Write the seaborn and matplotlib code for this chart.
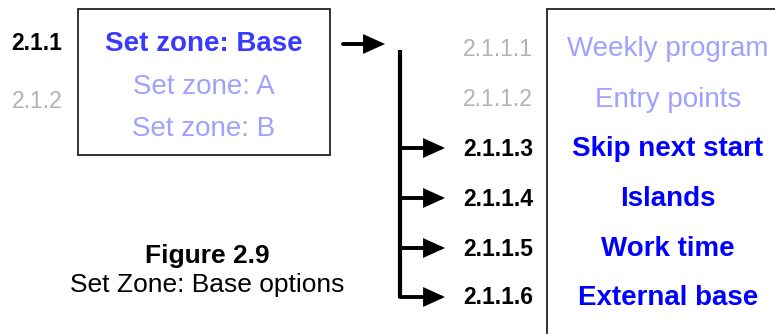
import matplotlib.pyplot as plt
import seaborn as sns
from matplotlib.patches import Rectangle

# =============================================
# Diagram content
left_numbers = ['2.1.1', '2.1.2']
left_items = ['Set zone: Base', 'Set zone: A', 'Set zone: B']
left_active = [True, False, False]

right_numbers = ['2.1.1.1', '2.1.1.2', '2.1.1.3', '2.1.1.4', '2.1.1.5', '2.1.1.6']
right_items = ['Weekly program', 'Entry points', 'Skip next start', 'Islands', 'Work time', 'External base']
right_active = [False, False, True, True, True, True]

caption_title = 'Figure 2.9'
caption_text = 'Set Zone: Base options'

# =============================================
# Styling
sns.set_theme(style="white")
plt.rcParams['font.family'] = ['Liberation Sans', 'DejaVu Sans']

gray = '#b3b3b3'
light_blue = '#a0a0ff'
base_blue = '#3a3aff'
blue = '#0000ff'

fig = plt.figure(figsize=(7.75, 3.34), dpi=100)
ax = fig.add_axes([0, 0, 1, 1])
ax.set_xlim(0, 775)
ax.set_ylim(334, 0)
ax.axis('off')

# left box
ax.add_patch(Rectangle((78, 9), 252, 146, fill=False, edgecolor='#222222', lw=1.3))
left_y = [44, 87, 129]
for i, (label, active) in enumerate(zip(left_items, left_active)):
    ax.text(204, left_y[i], label, ha='center', va='center', fontsize=20,
            color=base_blue if active else light_blue,
            fontweight='bold' if active else 'normal')

num_y = [43, 102]
for i, num in enumerate(left_numbers):
    ax.text(37, num_y[i], num, ha='center', va='center', fontsize=16.5,
            color='black' if i == 0 else gray, fontweight='bold' if i == 0 else 'normal')

# arrow to the right column
arrow_kw = dict(arrowstyle='-|>,head_length=0.55,head_width=0.25', lw=2.8, color='black',
                mutation_scale=20, shrinkA=0, shrinkB=0, joinstyle='miter')
ax.annotate('', xy=(385, 44), xytext=(343, 44), arrowprops=arrow_kw)

# right box (open on right and bottom)
ax.plot([547, 547], [9, 334], color='#222222', lw=1.3)
ax.plot([547, 775], [9, 9], color='#222222', lw=1.3)

# vertical bracket
ax.plot([400, 400], [50, 298], color='black', lw=3, solid_capstyle='butt')

row_y = [49, 100, 149, 199, 249, 298]
for i, (num, label, active) in enumerate(zip(right_numbers, right_items, right_active)):
    ax.text(533, row_y[i], num, ha='right', va='center', fontsize=16.5,
            color='black' if active else gray, fontweight='bold' if active else 'normal')
    ax.text(668, row_y[i], label, ha='center', va='center', fontsize=20,
            color=blue if active else light_blue, fontweight='bold' if active else 'normal')
    if active:
        ax.annotate('', xy=(445, row_y[i] - 1), xytext=(400, row_y[i] - 1), arrowprops=arrow_kw)

# caption
ax.text(207, 256, caption_title, ha='center', va='center', fontsize=19, fontweight='bold', color='black')
ax.text(207, 285, caption_text, ha='center', va='center', fontsize=19, color='black')

fig.savefig('out.png', dpi=100, facecolor='white')
